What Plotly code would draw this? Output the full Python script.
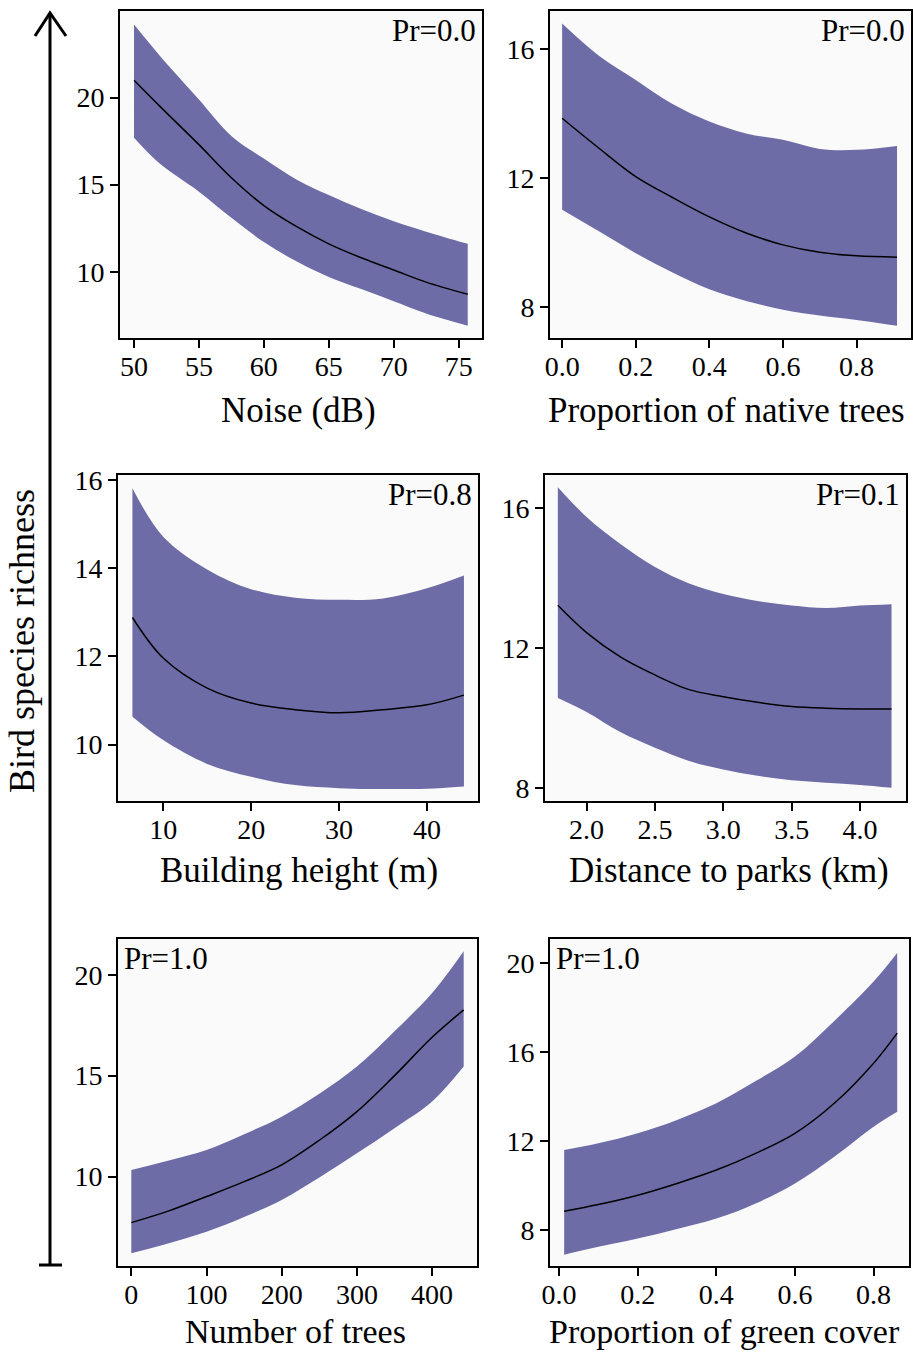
import plotly.graph_objects as go

# ---------------- data ----------------
noise_x = [50, 52, 55, 57.5, 60, 62.5, 65, 67.5, 70, 72.5, 75.7]
noise_fit = [21.0, 19.5, 17.3, 15.4, 13.8, 12.6, 11.6, 10.8, 10.1, 9.4, 8.7]
noise_hi = [24.2, 22.4, 19.9, 17.8, 16.5, 15.3, 14.4, 13.6, 12.9, 12.3, 11.6]
noise_lo = [17.7, 16.2, 14.6, 13.1, 11.7, 10.6, 9.7, 9.0, 8.3, 7.6, 6.9]

native_x = [0.0, 0.1, 0.2, 0.3, 0.4, 0.5, 0.6, 0.7, 0.8, 0.91]
native_fit = [13.86, 12.93, 12.05, 11.4, 10.8, 10.3, 9.93, 9.7, 9.59, 9.55]
native_hi = [16.8, 15.8, 15.05, 14.3, 13.76, 13.39, 13.19, 12.91, 12.88, 13.0]
native_lo = [11.02, 10.35, 9.67, 9.07, 8.55, 8.19, 7.92, 7.74, 7.6, 7.42]

height_x = [6.5, 10, 15, 20, 25, 30, 35, 40, 44.2]
height_fit = [12.88, 11.96, 11.28, 10.94, 10.79, 10.72, 10.79, 10.9, 11.12]
height_hi = [15.81, 14.71, 13.97, 13.52, 13.33, 13.28, 13.31, 13.54, 13.83]
height_lo = [10.63, 10.10, 9.56, 9.27, 9.08, 9.01, 8.99, 9.0, 9.05]

park_x = [1.79, 2.0, 2.25, 2.5, 2.75, 3.0, 3.25, 3.5, 3.75, 4.0, 4.23]
park_fit = [13.23, 12.45, 11.75, 11.24, 10.82, 10.62, 10.46, 10.34, 10.29, 10.27, 10.27]
park_hi = [16.6, 15.75, 14.97, 14.32, 13.85, 13.55, 13.35, 13.22, 13.15, 13.22, 13.26]
park_lo = [10.58, 10.18, 9.6, 9.16, 8.78, 8.54, 8.36, 8.23, 8.16, 8.1, 8.02]

trees_x = [0, 50, 100, 150, 200, 250, 300, 350, 400, 442]
trees_fit = [7.72, 8.3, 9.01, 9.75, 10.58, 11.8, 13.22, 15.0, 16.9, 18.26]
trees_hi = [10.33, 10.8, 11.32, 12.1, 12.97, 14.1, 15.45, 17.2, 19.09, 21.16]
trees_lo = [6.2, 6.7, 7.27, 8.0, 8.84, 9.95, 11.16, 12.4, 13.72, 15.45]

green_x = [0.013, 0.1, 0.2, 0.3, 0.4, 0.5, 0.6, 0.7, 0.8, 0.86]
green_fit = [8.85, 9.15, 9.57, 10.1, 10.7, 11.45, 12.35, 13.7, 15.5, 16.85]
green_hi = [11.6, 11.9, 12.35, 12.95, 13.7, 14.7, 15.8, 17.4, 19.17, 20.45]
green_lo = [6.9, 7.25, 7.62, 8.05, 8.52, 9.2, 10.1, 11.3, 12.65, 13.32]

x_titles = ["Noise (dB)", "Proportion of native trees", "Building height (m)",
            "Distance to parks (km)", "Number of trees", "Proportion of green cover"]
pr_labels = ["Pr=0.0", "Pr=0.0", "Pr=0.8", "Pr=0.1", "Pr=1.0", "Pr=1.0"]
y_title = "Bird species richness"

x_ticks = [[50, 55, 60, 65, 70, 75], [0, 0.2, 0.4, 0.6, 0.8], [10, 20, 30, 40],
           [2.0, 2.5, 3.0, 3.5, 4.0], [0, 100, 200, 300, 400], [0, 0.2, 0.4, 0.6, 0.8]]
y_ticks = [[10, 15, 20], [8, 12, 16], [10, 12, 14, 16], [8, 12, 16], [10, 15, 20], [8, 12, 16, 20]]

# ---------------- layout geometry ----------------
W, H = 913, 1352
panels = [
    dict(x=noise_x, fit=noise_fit, hi=noise_hi, lo=noise_lo,
         px=(120, 482), py=(11, 338), xr=[48.92, 76.8], yr=[6.19, 24.98], xf="", pr="right"),
    dict(x=native_x, fit=native_fit, hi=native_hi, lo=native_lo,
         px=(550, 911), py=(11, 338), xr=[-0.033, 0.948], yr=[7.04, 17.19], xf=".1f", pr="right"),
    dict(x=height_x, fit=height_fit, hi=height_hi, lo=height_lo,
         px=(118, 478), py=(475, 801), xr=[4.86, 45.8], yr=[8.72, 16.11], xf="", pr="right"),
    dict(x=park_x, fit=park_fit, hi=park_hi, lo=park_lo,
         px=(545, 906), py=(475, 801), xr=[1.696, 4.336], yr=[7.64, 16.95], xf=".1f", pr="right"),
    dict(x=trees_x, fit=trees_fit, hi=trees_hi, lo=trees_lo,
         px=(118, 477), py=(939, 1266), xr=[-17.7, 459.7], yr=[5.57, 21.77], xf="", pr="left"),
    dict(x=green_x, fit=green_fit, hi=green_hi, lo=green_lo,
         px=(550, 909), py=(939, 1266), xr=[-0.023, 0.89], yr=[6.39, 21.08], xf=".1f", pr="left"),
]
title_pos = [(298, 410), (726, 410), (299, 870), (729, 870), (295, 1331), (724, 1331)]
title_size = [35, 35, 35, 35, 34, 34]

FONT = "Liberation Serif, Times New Roman, serif"
BAND = "#6e6ca7"
fig = go.Figure()
annotations = []
layout = {}

for i, p in enumerate(panels):
    n = i + 1
    xa = "x" if n == 1 else f"x{n}"
    ya = "y" if n == 1 else f"y{n}"
    fig.add_trace(go.Scatter(
        x=p["x"], y=p["lo"], mode="lines", line=dict(width=0, color=BAND, shape="spline"),
        xaxis=xa, yaxis=ya, hoverinfo="skip", showlegend=False))
    fig.add_trace(go.Scatter(
        x=p["x"], y=p["hi"], mode="lines", fill="tonexty", fillcolor=BAND,
        line=dict(width=0, color=BAND, shape="spline"),
        xaxis=xa, yaxis=ya, hoverinfo="skip", showlegend=False))
    fig.add_trace(go.Scatter(
        x=p["x"], y=p["fit"], mode="lines", line=dict(color="black", width=1.5, shape="spline"),
        xaxis=xa, yaxis=ya, showlegend=False))
    common = dict(showline=True, mirror=True, linecolor="black", linewidth=2,
                  ticks="outside", ticklen=8, tickwidth=2, tickcolor="black",
                  showgrid=False, zeroline=False, automargin=False,
                  tickfont=dict(family=FONT, size=28, color="black"))
    layout["xaxis" if n == 1 else f"xaxis{n}"] = dict(
        domain=[p["px"][0] / W, p["px"][1] / W], range=p["xr"], anchor=ya,
        tickvals=x_ticks[i], tickformat=p["xf"], ticklabelstandoff=-6, **common)
    layout["yaxis" if n == 1 else f"yaxis{n}"] = dict(
        domain=[1 - p["py"][1] / H, 1 - p["py"][0] / H], range=p["yr"], anchor=xa,
        tickvals=y_ticks[i], **common)
    # Pr label
    if p["pr"] == "right":
        annotations.append(dict(text=pr_labels[i], xref=f"{xa} domain", yref=f"{ya} domain",
                                x=0.99, y=1.0, xanchor="right", yanchor="top", showarrow=False,
                                font=dict(family=FONT, size=31, color="black")))
    else:
        annotations.append(dict(text=pr_labels[i], xref=f"{xa} domain", yref=f"{ya} domain",
                                x=0.01, y=1.0, xanchor="left", yanchor="top", showarrow=False,
                                font=dict(family=FONT, size=31, color="black")))
    tx, ty = title_pos[i]
    annotations.append(dict(text=x_titles[i], xref="paper", yref="paper",
                            x=tx / W, y=1 - ty / H, xanchor="center", yanchor="middle",
                            showarrow=False, font=dict(family=FONT, size=title_size[i], color="black")))

annotations.append(dict(text=y_title, xref="paper", yref="paper", x=22 / W, y=1 - 641 / H,
                        xanchor="center", yanchor="middle", textangle=-90, showarrow=False,
                        font=dict(family=FONT, size=36, color="black")))

# arrow on the left
def P(xp, yp):
    return f"{xp / W:.5f} {1 - yp / H:.5f}"

shapes = [
    dict(type="line", xref="paper", yref="paper", x0=50 / W, x1=50 / W, y0=1 - 13 / H, y1=1 - 1265 / H,
         line=dict(color="black", width=3)),
    dict(type="path", xref="paper", yref="paper",
         path=f"M {P(35, 36)} L {P(50, 13)} L {P(66, 36)}", line=dict(color="black", width=3)),
    dict(type="line", xref="paper", yref="paper", x0=39 / W, x1=62 / W, y0=1 - 1265 / H, y1=1 - 1265 / H,
         line=dict(color="black", width=3)),
]

fig.update_layout(
    width=W, height=H, margin=dict(l=0, r=0, t=0, b=0, pad=0, autoexpand=False),
    paper_bgcolor="white", plot_bgcolor="#fafafa",
    annotations=annotations, shapes=shapes, showlegend=False,
    font=dict(family=FONT, color="black"), **layout)

fig.write_html(
    "out.html",
    config={"displayModeBar": False},
    post_script="document.body.style.margin='0px';document.body.style.padding='0px';"
                "document.documentElement.style.overflow='hidden';document.body.style.overflow='hidden';",
)
